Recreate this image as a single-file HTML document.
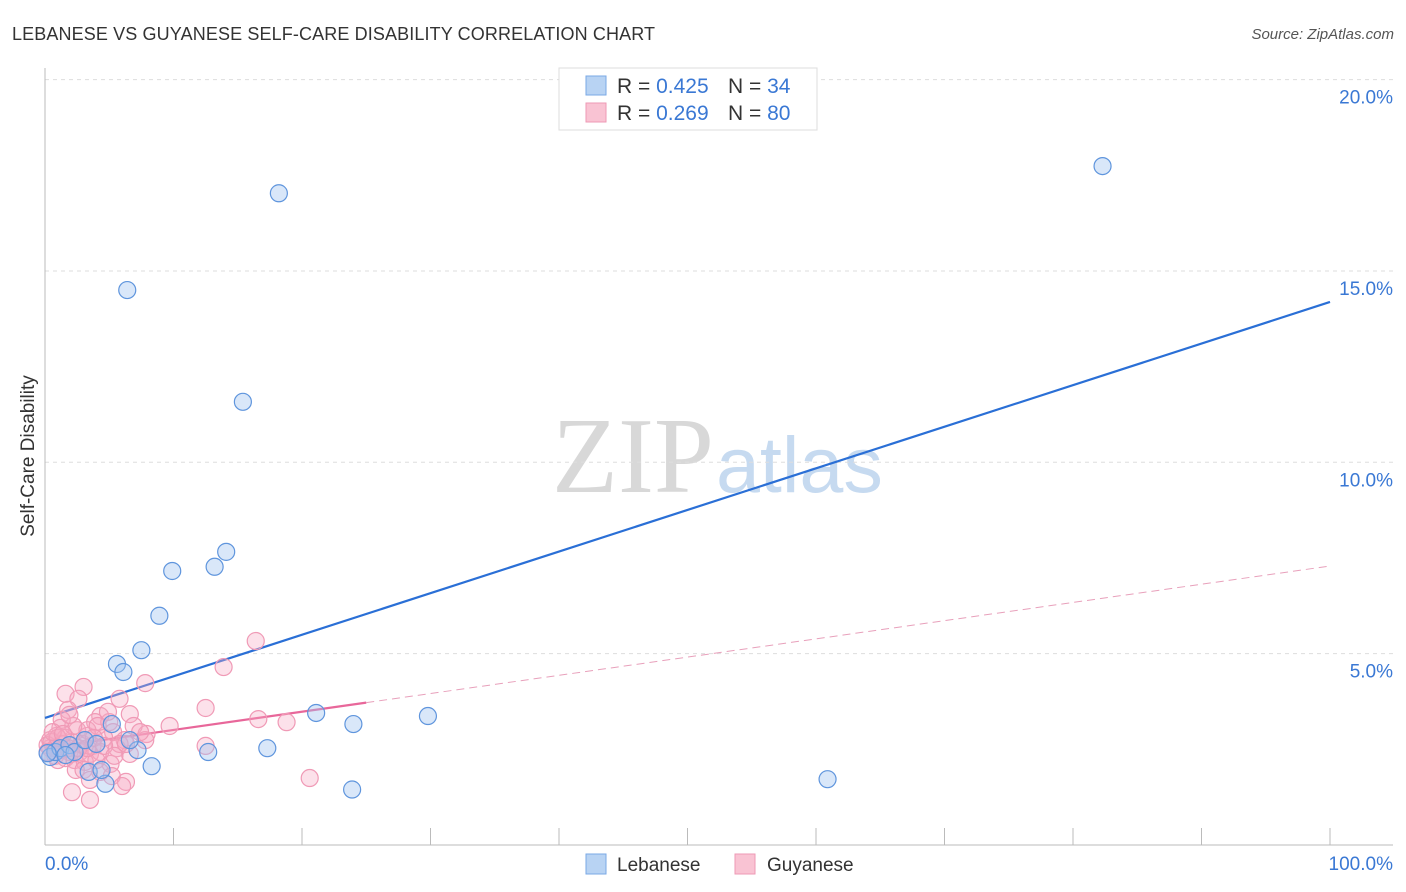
<!DOCTYPE html>
<html><head><meta charset="utf-8"><style>
body{margin:0;background:#fff;font-family:"Liberation Sans",sans-serif;}
svg{display:block}
</style></head><body>
<svg id="c" width="1406" height="892" xmlns="http://www.w3.org/2000/svg">
<text x="12" y="40" font-size="18" fill="#333" textLength="643">LEBANESE VS GUYANESE SELF-CARE DISABILITY CORRELATION CHART</text>
<text x="1394" y="39" font-size="15" fill="#555" font-style="italic" text-anchor="end">Source: ZipAtlas.com</text>
<text x="714" y="492" font-size="108" fill="#d8d8d8" text-anchor="end" font-family="Liberation Serif,serif">ZIP</text>
<text x="716" y="492" font-size="79" fill="#c6daf0">atlas</text>
<text transform="translate(34,456) rotate(-90)" font-size="19" fill="#333" text-anchor="middle">Self-Care Disability</text>
<g id="grid"></g><g id="axes"></g><g id="lines"></g><g id="pts"></g>
<g>
<rect x="559" y="68" width="258" height="62" fill="#fff" stroke="#ddd"/>
<rect x="586" y="76" width="20" height="19" fill="#b8d3f3" stroke="#7aa8e6"/>
<rect x="586" y="103" width="20" height="19" fill="#f9c3d3" stroke="#ee9ab5"/>
<text x="617" y="93" font-size="21" fill="#333">R = <tspan fill="#3a78d4">0.425</tspan><tspan x="728">N = </tspan><tspan fill="#3a78d4">34</tspan></text>
<text x="617" y="120" font-size="21" fill="#333">R = <tspan fill="#3a78d4">0.269</tspan><tspan x="728">N = </tspan><tspan fill="#3a78d4">80</tspan></text>
</g>
<g>
<rect x="586" y="854" width="20" height="20" fill="#b8d3f3" stroke="#7aa8e6"/>
<text x="617" y="871" font-size="19" fill="#333">Lebanese</text>
<rect x="735" y="854" width="20" height="20" fill="#f9c3d3" stroke="#ee9ab5"/>
<text x="767" y="871" font-size="19" fill="#333">Guyanese</text>
</g>
</svg>
<script>
const yTicks=[5,10,15,20];
const yTickLabels=["5.0%","10.0%","15.0%","20.0%"];
const xTickCount=10;
const xLabels=["0.0%","100.0%"];
const lebX=[82.3,18.2,6.4,15.4,14.1,9.9,13.2,8.9,7.5,5.6,6.1,21.1,29.8,24.0,5.2,17.3,12.7,7.2,8.3,3.4,60.9,23.9,4.7,4.4,0.4,0.8,1.2,1.9,2.3,3.1,4.0,6.6,1.6,0.2];
const lebY=[17.74,17.03,14.5,11.58,7.66,7.16,7.27,5.99,5.09,4.73,4.52,3.45,3.37,3.16,3.16,2.53,2.43,2.48,2.06,1.91,1.72,1.45,1.60,1.96,2.30,2.43,2.53,2.61,2.43,2.74,2.64,2.74,2.35,2.40];
const guyX=[16.4,13.9,7.8,3.0,1.6,5.8,2.6,12.5,1.8,6.6,4.3,16.6,18.8,9.7,6.9,3.9,5.0,1.2,2.5,5.3,7.9,3.3,4.6,6.2,0.4,0.9,1.6,2.1,2.9,3.7,12.5,5.6,0.4,1.2,1.9,2.7,3.5,4.3,6.6,5.8,7.8,0.8,1.6,2.3,3.1,4.0,5.1,0.2,0.5,1.3,1.0,2.4,4.3,5.2,6.3,2.1,3.5,20.6,6.0,3.3,4.1,2.2,1.3,1.9,4.9,7.4,6.3,1.8,2.6,0.8,3.3,1.0,3.8,4.6,5.4,3.0,3.5,0.2,0.6,1.4];
const guyY=[5.33,4.65,4.23,4.13,3.95,3.82,3.82,3.58,3.53,3.42,3.37,3.29,3.21,3.11,3.11,3.21,3.21,3.06,3.00,2.95,2.90,2.85,2.80,2.74,2.74,2.85,2.80,2.69,2.64,2.59,2.59,2.53,2.53,2.48,2.43,2.43,2.38,2.43,2.38,2.64,2.74,2.33,2.27,2.22,2.17,2.22,2.12,2.61,2.69,2.64,2.22,1.96,1.91,1.80,1.65,1.38,1.18,1.75,1.54,3.00,3.11,3.11,3.27,3.40,3.48,2.95,2.64,2.53,2.53,2.53,2.53,2.80,2.80,2.59,2.33,1.96,1.70,2.43,2.95,2.90];
const lebLine=[3.32,14.19];
const guyLine=[2.53,7.29];
const guySolidEnd=25;
const NS="http://www.w3.org/2000/svg";
const X=v=>45+v*12.85, Y=v=>845-v*38.27;
function mk(t,a,p){const e=document.createElementNS(NS,t);for(const k in a)e.setAttribute(k,a[k]);document.getElementById(p).appendChild(e);return e;}
yTicks.forEach((t,i)=>{
 const g=mk('line',{x1:45,x2:1393,y1:Y(t),y2:Y(t),stroke:'#ddd','stroke-dasharray':'4,4'},'grid');
 
 
 const l=mk('text',{x:1393,y:Y(t)+24,'font-size':19,fill:'#3a78d4','text-anchor':'end'},'grid');
 l.textContent=yTickLabels[i];
 
 
});
const ax=mk('line',{x1:45,x2:45,y1:68,y2:845,stroke:'#bbb'},'axes');


const bx=mk('line',{x1:45,x2:1393,y1:845,y2:845,stroke:'#bbb'},'axes');


for(let i=1;i<=xTickCount;i++){const t=mk('line',{x1:X(i*10),x2:X(i*10),y1:828,y2:845,stroke:'#bbb'},'axes');
 
 }
const xl0=mk('text',{x:45,y:870,'font-size':19,fill:'#3a78d4'},'axes');xl0.textContent=xLabels[0];


const xl1=mk('text',{x:1393,y:870,'font-size':19,fill:'#3a78d4','text-anchor':'end'},'axes');xl1.textContent=xLabels[1];


guyX.forEach((x,i)=>{const c=mk('circle',{cx:X(x),cy:Y(guyY[i]),r:8.5,fill:'rgba(246,168,195,0.35)',stroke:'#f09ab6','stroke-width':1.2},'pts');
 
 });
lebX.forEach((x,i)=>{const c=mk('circle',{cx:X(x),cy:Y(lebY[i]),r:8.5,fill:'rgba(160,196,240,0.4)',stroke:'#5f95dd','stroke-width':1.2},'pts');
 
 });
const gy=x=>guyLine[0]+(guyLine[1]-guyLine[0])*x/100;
const l1=mk('line',{x1:X(0),y1:Y(lebLine[0]),x2:X(100),y2:Y(lebLine[1]),stroke:'#2a6fd6','stroke-width':2.2},'lines');


const l2=mk('line',{x1:X(0),y1:Y(gy(0)),x2:X(guySolidEnd),y2:Y(gy(guySolidEnd)),stroke:'#e8679a','stroke-width':2.2},'lines');


const l3=mk('line',{x1:X(guySolidEnd),y1:Y(gy(guySolidEnd)),x2:X(100),y2:Y(gy(100)),stroke:'#e8a0bb','stroke-width':1,'stroke-dasharray':'8,5'},'lines');


</script>
</body></html>
